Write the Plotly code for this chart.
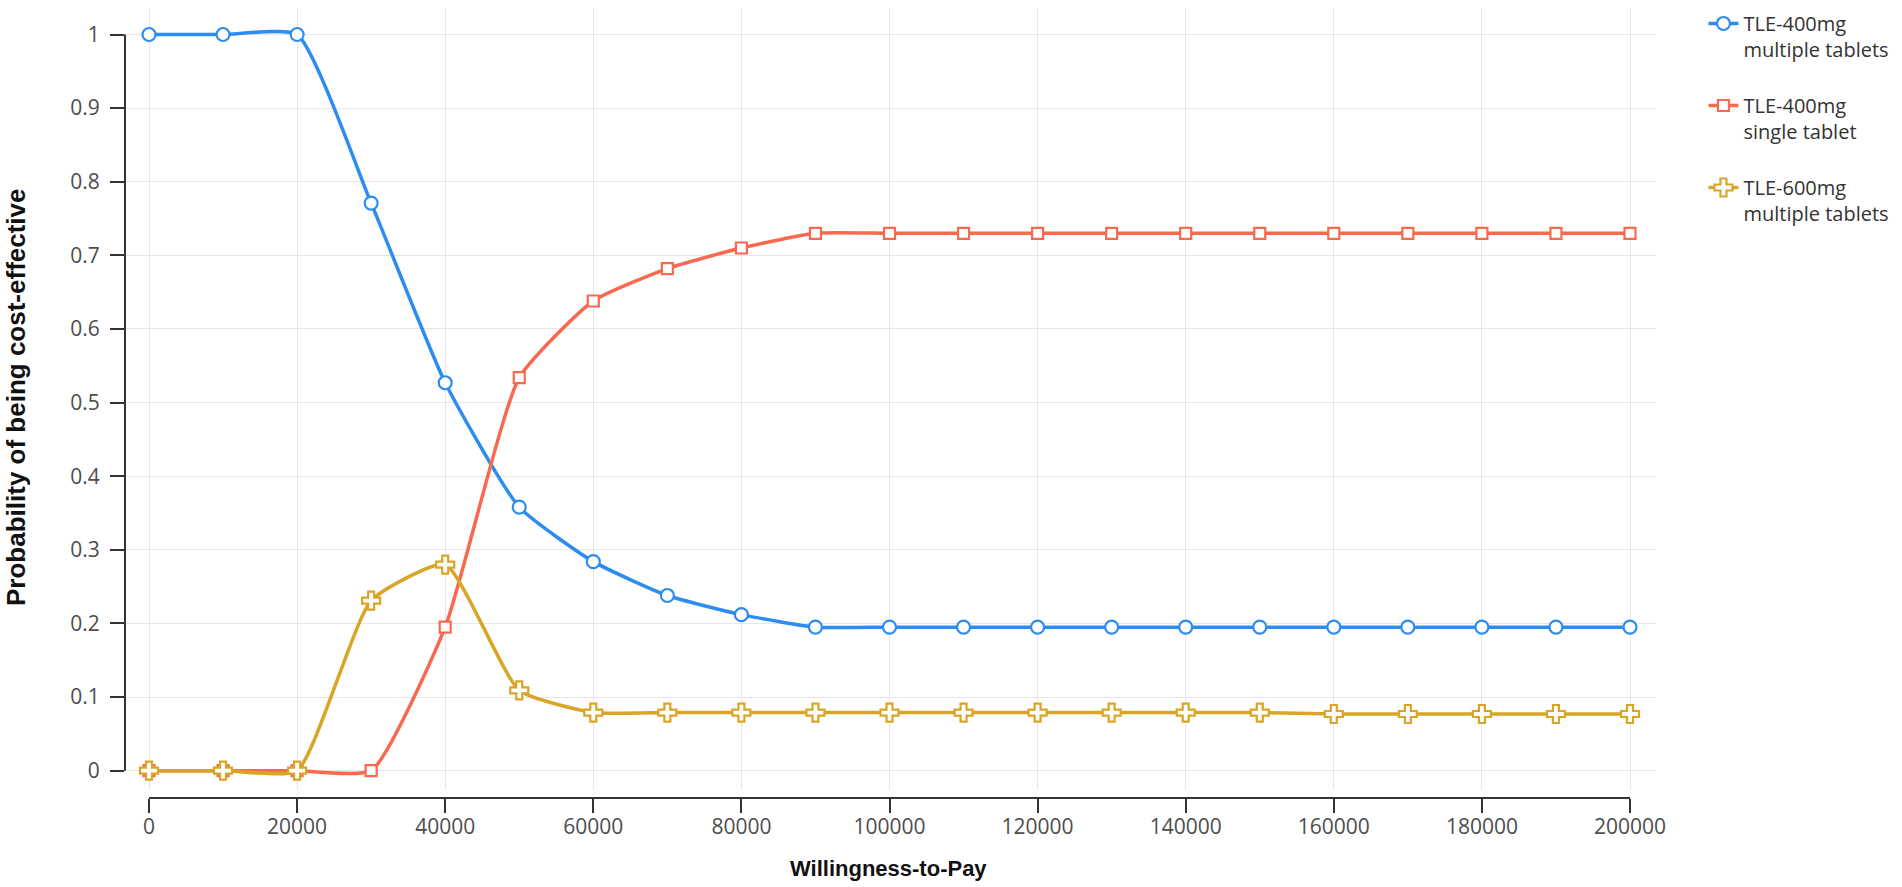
import plotly.graph_objects as go

wtp = [0, 10000, 20000, 30000, 40000, 50000, 60000, 70000, 80000, 90000, 100000,
       110000, 120000, 130000, 140000, 150000, 160000, 170000, 180000, 190000, 200000]

tle400_multi = [1.0, 1.0, 1.0, 0.771, 0.527, 0.358, 0.284, 0.238, 0.212, 0.195, 0.195,
                0.195, 0.195, 0.195, 0.195, 0.195, 0.195, 0.195, 0.195, 0.195, 0.195]
tle400_single = [0.0, 0.0, 0.0, 0.0, 0.195, 0.534, 0.638, 0.682, 0.710, 0.730, 0.730,
                 0.730, 0.730, 0.730, 0.730, 0.730, 0.730, 0.730, 0.730, 0.730, 0.730]
tle600_multi = [0.0, 0.0, 0.0, 0.231, 0.280, 0.109, 0.079, 0.079, 0.079, 0.079, 0.079,
                0.079, 0.079, 0.079, 0.079, 0.079, 0.077, 0.077, 0.077, 0.077, 0.077]

series = [
    ("TLE-400mg<br>multiple tablets", tle400_multi, "#2d8cf0", "circle", 13),
    ("TLE-400mg<br>single tablet", tle400_single, "#f9694f", "square", 11),
    ("TLE-600mg<br>multiple tablets", tle600_multi, "#d9a526", "cross", 15),
]

TICK_FONT = dict(family="Open Sans, sans-serif", size=21, color="#4d4d4d")
TITLE_FONT = "Liberation Sans, Arial, sans-serif"

# page geometry (px): plot area spans x 125..1656, y 8..790; x axis sits at y=798
PAPER_H = 887 - 89
Y_DOMAIN = [(PAPER_H - 790) / PAPER_H, (PAPER_H - 8) / PAPER_H]

fig = go.Figure()
for i, (name, vals, colour, symbol, size) in enumerate(series):
    fig.add_trace(
        go.Scatter(
            x=wtp,
            y=vals,
            name=name,
            mode="lines+markers",
            line=dict(color=colour, width=3.5, shape="spline", smoothing=0.5),
            marker=dict(symbol=symbol, size=size, color="white", line=dict(color=colour, width=2.2)),
            legendgroup=f"g{i}",
        )
    )

# axis lines only span the data range, like the original
fig.add_shape(type="line", xref="paper", yref="y", x0=0, x1=0, y0=0, y1=1,
              line=dict(color="#333333", width=2))
fig.add_shape(type="line", xref="x", yref="paper", x0=0, x1=200000, y0=0, y1=0,
              line=dict(color="#333333", width=2))

# axis titles as annotations so they don't push the margins
fig.add_annotation(
    text="<b>Willingness-to-Pay</b>", xref="paper", yref="paper",
    x=(888 - 125) / 1531, y=(798 - 868) / PAPER_H, xanchor="center", yanchor="middle",
    showarrow=False, font=dict(family=TITLE_FONT, size=22, color="#111111"),
)
fig.add_annotation(
    text="<b>Probability of being cost-effective</b>", xref="paper", yref="paper",
    x=(16 - 125) / 1531, y=(798 - 397) / PAPER_H, xanchor="center", yanchor="middle",
    textangle=-90, showarrow=False, font=dict(family=TITLE_FONT, size=26, color="#111111"),
)

fig.update_layout(
    width=1902,
    height=887,
    margin=dict(l=125, r=246, t=0, b=89, autoexpand=False),
    plot_bgcolor="white",
    paper_bgcolor="white",
    showlegend=True,
    legend=dict(
        x=1.031,
        xanchor="left",
        y=0.995,
        yanchor="top",
        valign="top",
        tracegroupgap=27,
        font=dict(family="Open Sans, sans-serif", size=20, color="#333333"),
    ),
)
fig.update_xaxes(
    range=[-3241, 203511],
    anchor="free",
    position=0,
    automargin=False,
    tickmode="linear",
    tick0=0,
    dtick=20000,
    tickformat="d",
    ticks="outside",
    ticklen=14,
    tickwidth=2,
    tickcolor="#333333",
    tickfont=TICK_FONT,
    ticklabelstandoff=-4,
    showgrid=True,
    gridcolor="#e6e6e6",
    gridwidth=1,
    zeroline=False,
    showline=False,
)
fig.update_yaxes(
    domain=Y_DOMAIN,
    range=[-0.0262, 1.036],
    automargin=False,
    tickmode="array",
    tickvals=[0, 0.1, 0.2, 0.3, 0.4, 0.5, 0.6, 0.7, 0.8, 0.9, 1],
    ticktext=["0", "0.1", "0.2", "0.3", "0.4", "0.5", "0.6", "0.7", "0.8", "0.9", "1"],
    ticks="outside",
    ticklen=14,
    tickwidth=2,
    tickcolor="#333333",
    tickfont=TICK_FONT,
    ticklabelstandoff=6,
    showgrid=True,
    gridcolor="#e6e6e6",
    gridwidth=1,
    zeroline=False,
    showline=False,
)

# drop the browser's default 8px body margin so the figure sits at the page corner
fig.write_html(
    "out.html",
    config={"displayModeBar": False},
    post_script="document.body.style.margin='0';",
)
